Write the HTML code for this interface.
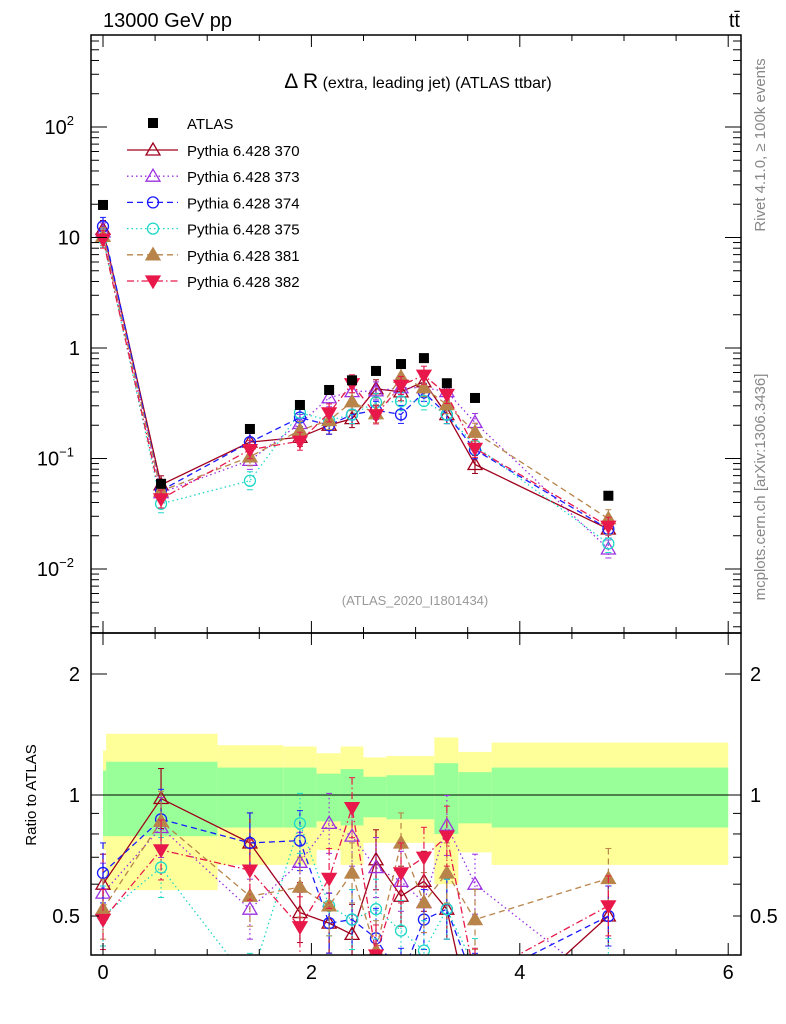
<!DOCTYPE html>
<html><head><meta charset="utf-8">
<style>
html,body{margin:0;padding:0;background:#fff;}
svg{display:block;font-family:"Liberation Sans",Arial,sans-serif;}
</style></head>
<body>
<svg id="c" width="786" height="1024" viewBox="0 0 786 1024" xmlns="http://www.w3.org/2000/svg"></svg>
<script>
const xs = [0,0.557,1.41,1.89,2.17,2.39,2.62,2.86,3.08,3.30,3.57,4.85];
const dataVals = [19.7,0.059,0.185,0.305,0.417,0.51,0.62,0.716,0.81,0.48,0.353,0.046];
const seriesNames = ["Pythia 6.428 370","Pythia 6.428 373","Pythia 6.428 374","Pythia 6.428 375","Pythia 6.428 381","Pythia 6.428 382"];
const ratio370 = [0.60,0.98,0.76,0.51,0.48,0.45,0.69,0.56,0.61,0.52,0.25,0.50];
const ratio373 = [0.57,0.83,0.52,0.68,0.85,0.79,0.66,0.61,0.54,0.84,0.60,0.33];
const ratio374 = [0.64,0.87,0.76,0.77,0.48,0.49,0.44,0.35,0.49,0.52,0.34,0.50];
const ratio375 = [0.50,0.66,0.34,0.85,0.53,0.49,0.52,0.46,0.41,0.52,0.37,0.37];
const ratio381 = [0.52,0.86,0.56,0.59,0.53,0.64,0.41,0.76,0.54,0.64,0.49,0.62];
const ratio382 = [0.49,0.73,0.65,0.47,0.62,0.93,0.40,0.64,0.70,0.79,0.35,0.53];
const bandEdges = [0,0.03,1.1,1.73,2.05,2.28,2.5,2.72,3.18,3.41,3.73,6];
const yellowHi = [1.29,1.42,1.33,1.32,1.27,1.32,1.24,1.25,1.39,1.28,1.35];
const yellowLo = [0.73,0.58,0.67,0.67,0.73,0.67,0.76,0.76,0.60,0.72,0.67];
const greenHi = [1.15,1.21,1.17,1.17,1.13,1.16,1.11,1.12,1.20,1.14,1.17];
const greenLo = [0.79,0.79,0.83,0.83,0.86,0.84,0.88,0.87,0.80,0.85,0.83];
const xTicks = [0,2,4,6];

const NS="http://www.w3.org/2000/svg";
const svg=document.getElementById('c');
function mk(t,a,p){const e=document.createElementNS(NS,t);for(const k in a)e.setAttribute(k,a[k]);(p||svg).appendChild(e);return e;}
const L=91,R=741,T=35,M=633,B=955;
const X=v=>103+v*104.2;
const Y=v=>348-110.5*Math.log10(v);
const RY=v=>795-402*Math.log10(v);

// clip paths
const defs=mk('defs',{});
const cp1=mk('clipPath',{id:'cm'},defs);mk('rect',{x:L,y:T,width:R-L,height:M-T},cp1);
const cp2=mk('clipPath',{id:'cr'},defs);mk('rect',{x:L,y:M,width:R-L,height:B-M},cp2);

// bands
const bands=mk('g',{'clip-path':'url(#cr)'});


for(let i=0;i<yellowHi.length;i++){
 const x0=X(bandEdges[i]),x1=X(bandEdges[i+1]);
 const y=mk('rect',{x:x0,y:RY(yellowHi[i]),width:x1-x0,height:RY(yellowLo[i])-RY(yellowHi[i]),fill:'#ffff99'},bands);
 
 
 const g=mk('rect',{x:x0,y:RY(greenHi[i]),width:x1-x0,height:RY(greenLo[i])-RY(greenHi[i]),fill:'#99ff99'},bands);
 
 
}
mk('line',{x1:L,x2:R,y1:RY(1),y2:RY(1),stroke:'#000','stroke-width':1});

const styles=[
 {c:'#a0001c',d:'',m:'tri',f:false},
 {c:'#9b30e0',d:'1.5,3',m:'tri',f:false},
 {c:'#1a1aff',d:'6,4',m:'circ',f:false},
 {c:'#20d8c8',d:'1.5,3',m:'circ',f:false},
 {c:'#b8844a',d:'6,4',m:'tri',f:true},
 {c:'#e8194a',d:'7,3,1.5,3',m:'tdown',f:true}
];
const ratios=[ratio370,ratio373,ratio374,ratio375,ratio381,ratio382];
function marker(p,s,x,y){
 const fill=s.f?s.c:'none';
 if(s.m==='circ') return mk('circle',{cx:x,cy:y,r:5.5,fill:fill,stroke:s.c,'stroke-width':1.3},p);
 if(s.m==='tri') return mk('polygon',{points:`${x},${y-7} ${x-7},${y+5} ${x+7},${y+5}`,fill:fill,stroke:s.c,'stroke-width':1.3},p);
 return mk('polygon',{points:`${x},${y+7} ${x-7},${y-5} ${x+7},${y-5}`,fill:fill,stroke:s.c,'stroke-width':1.3},p);
}
function drawSeries(p,ys,s,err){
 const pts=ys.map((y,i)=>X(xs[i])+','+y).join(' ');
 const ln=mk('polyline',{points:pts,fill:'none',stroke:s.c,'stroke-width':1.3,'stroke-dasharray':s.d},p);
 
 
 ys.forEach((y,i)=>{
  const x=X(xs[i]);
  mk('line',{x1:x,x2:x,y1:y-err,y2:y+err,stroke:s.c,'stroke-width':1.2,'stroke-dasharray':s.d},p);
  mk('line',{x1:x-3,x2:x+3,y1:y-err,y2:y-err,stroke:s.c,'stroke-width':1},p);
  mk('line',{x1:x-3,x2:x+3,y1:y+err,y2:y+err,stroke:s.c,'stroke-width':1},p);
  const m=marker(p,s,x,y);
  
  
 });
}
const gm=mk('g',{'clip-path':'url(#cm)'});


const gr=mk('g',{'clip-path':'url(#cr)'});


ratios.forEach((r,k)=>{
 drawSeries(gm,r.map((v,i)=>Y(v*dataVals[i])),styles[k],9);
 drawSeries(gr,r.map(v=>RY(v)),styles[k],30);
});
dataVals.forEach((v,i)=>{
 const s=mk('rect',{x:X(xs[i])-5,y:Y(v)-5,width:10,height:10,fill:'#000'},gm);
 
 
});

// frames
mk('rect',{x:L,y:T,width:R-L,height:M-T,fill:'none',stroke:'#000','stroke-width':1.5});
mk('rect',{x:L,y:M,width:R-L,height:B-M,fill:'none',stroke:'#000','stroke-width':1.5});

// x ticks
for(let v=0;v<=6.001;v+=0.5){
 const x=X(v),big=Math.abs(v%2)<1e-6;const l=big?12:6;
 [T,M].forEach(y=>mk('line',{x1:x,x2:x,y1:y,y2:y+l,stroke:'#000'}));
 [M,B].forEach(y=>mk('line',{x1:x,x2:x,y1:y,y2:y-l,stroke:'#000'}));
}
xTicks.forEach(v=>{const t=mk('text',{x:X(v),y:979,'text-anchor':'middle','font-size':20});t.textContent=v;
 });
// log ticks main
for(let e=-3;e<=2;e++)for(let k=1;k<10;k++){
 const v=k*Math.pow(10,e),y=Y(v);if(y<T||y>M)continue;const l=k===1?16:8;
 mk('line',{x1:L,x2:L+l,y1:y,y2:y,stroke:'#000'});mk('line',{x1:R,x2:R-l,y1:y,y2:y,stroke:'#000'});
}
[[100,'10','2'],[10,'10',''],[1,'1',''],[0.1,'10','−1'],[0.01,'10','−2']].forEach(([v,b,s])=>{
 const t=mk('text',{x:s?74:80,y:Y(v)+7,'text-anchor':'end','font-size':20});t.textContent=b;
 
 if(s){const u=mk('tspan',{'font-size':13,dy:-9});u.textContent=s;t.appendChild(u);}
});
// ratio ticks
[0.4,0.5,0.6,0.7,0.8,0.9,1,2].forEach(v=>{const y=RY(v);const l=(v===1||v===2)?16:8;
 mk('line',{x1:L,x2:L+l,y1:y,y2:y,stroke:'#000'});mk('line',{x1:R,x2:R-l,y1:y,y2:y,stroke:'#000'});});
[[2,'2'],[1,'1'],[0.5,'0.5']].forEach(([v,s])=>{
 let t=mk('text',{x:80,y:RY(v)+7,'text-anchor':'end','font-size':20});t.textContent=s;
 
 t=mk('text',{x:750,y:RY(v)+7,'font-size':20});t.textContent=s;
 
});

// legend
const lg=mk('g',{});
let t=mk('rect',{x:148,y:118,width:10,height:10,fill:'#000'},lg);
t=mk('text',{x:187,y:129,'font-size':15},lg);t.textContent='ATLAS';
seriesNames.forEach((n,k)=>{
 const y=150+k*26.2,s=styles[k];
 mk('line',{x1:127,x2:178,y1:y,y2:y,stroke:s.c,'stroke-width':1.3,'stroke-dasharray':s.d},lg);
 marker(lg,s,153,y);
 const tx=mk('text',{x:187,y:y+6,'font-size':15},lg);tx.textContent=n;
 
});
</script>
<svg style="position:absolute;left:0;top:0" width="786" height="1024" xmlns="http://www.w3.org/2000/svg">
<text x="103" y="27" font-size="20" font-family="Liberation Sans, sans-serif">13000 GeV pp</text>
<text x="740" y="27" font-size="20" text-anchor="end" font-family="Liberation Sans, sans-serif">tt̄</text>
<text x="418" y="88" font-size="16" text-anchor="middle" font-family="Liberation Sans, sans-serif"><tspan font-size="21">Δ R</tspan> (extra, leading jet) (ATLAS ttbar)</text>
<text x="415" y="605" font-size="13" fill="#999" text-anchor="middle" font-family="Liberation Sans, sans-serif">(ATLAS_2020_I1801434)</text>
<text transform="translate(765,145) rotate(-90)" font-size="15" fill="#888" text-anchor="middle" font-family="Liberation Sans, sans-serif">Rivet 4.1.0, ≥ 100k events</text>
<text transform="translate(765,487) rotate(-90)" font-size="15" fill="#888" text-anchor="middle" font-family="Liberation Sans, sans-serif">mcplots.cern.ch [arXiv:1306.3436]</text>
<text transform="translate(36,795) rotate(-90)" font-size="15" text-anchor="middle" font-family="Liberation Sans, sans-serif">Ratio to ATLAS</text>
</svg>
</body></html>
